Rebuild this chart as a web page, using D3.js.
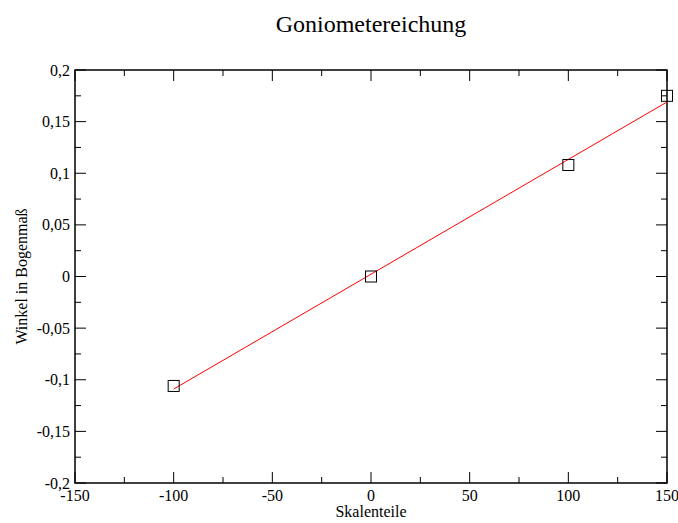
<!DOCTYPE html>
<html>
<head>
<meta charset="utf-8">
<script src="https://cdn.jsdelivr.net/npm/d3@7"></script>
<style>
  body { margin: 0; background: #fff; }
  text { font-family: "Liberation Serif", "Times New Roman", serif; fill: #000; }
</style>
</head>
<body>
<svg id="chart" width="678" height="523"></svg>
<script>
// messpunkte
const skalenteile = [-100, 0, 100, 150];
const winkel = [-0.106, 0, 0.108, 0.175];
// ausgleichsgerade (endpunkte)
const fitX = [-100, 150];
const fitY = [-0.109, 0.169];
// achsen
const xTicks = [-150, -100, -50, 0, 50, 100, 150];
const yTicks = [-0.2, -0.15, -0.1, -0.05, 0, 0.05, 0.1, 0.15, 0.2];

const margin = {top: 70, right: 11, bottom: 40, left: 75},
      width = 678 - margin.left - margin.right,
      height = 523 - margin.top - margin.bottom;

const svg = d3.select("#chart");
const g = svg.append("g")
    .attr("transform", `translate(${margin.left}, ${margin.top})`);

const x = d3.scaleLinear().domain([-150, 150]).range([0, width]);
const y = d3.scaleLinear().domain([-0.2, 0.2]).range([height, 0]);

const fmt = v => d3.format("")(Math.round(v * 1000) / 1000).replace(".", ",").replace("−", "-");

const xMinor = d3.range(-125, 150, 50);
const yMinor = d3.range(-0.175, 0.2, 0.05);

// ticks on all four sides (inward)
function ticks(sel, vals, len, axis) {
  vals.forEach(v => {
    if (axis === "x") {
      sel.append("line").attr("x1", x(v)).attr("x2", x(v)).attr("y1", height).attr("y2", height - len);
      sel.append("line").attr("x1", x(v)).attr("x2", x(v)).attr("y1", 0).attr("y2", len);
    } else {
      sel.append("line").attr("y1", y(v)).attr("y2", y(v)).attr("x1", 0).attr("x2", len);
      sel.append("line").attr("y1", y(v)).attr("y2", y(v)).attr("x1", width).attr("x2", width - len);
    }
  });
}
const tg = g.append("g").attr("stroke", "#000").attr("stroke-width", 1);
ticks(tg, xTicks, 11, "x");
ticks(tg, xMinor, 6, "x");
ticks(tg, yTicks, 11, "y");
ticks(tg, yMinor, 6, "y");

// frame
g.append("rect")
  .attr("width", width).attr("height", height)
  .attr("fill", "none").attr("stroke", "#000").attr("stroke-width", 1.5);

// tick labels
g.selectAll(".xl").data(xTicks).enter().append("text")
  .attr("x", d => x(d)).attr("y", height + 18)
  .attr("text-anchor", "middle").attr("font-size", 16)
  .text(d => fmt(d));
g.selectAll(".yl").data(yTicks).enter().append("text")
  .attr("x", -5).attr("y", d => y(d) + 5.5)
  .attr("text-anchor", "end").attr("font-size", 16)
  .text(d => fmt(d));

// fit line
g.append("line")
  .attr("x1", x(fitX[0])).attr("y1", y(fitY[0]))
  .attr("x2", x(fitX[1])).attr("y2", y(fitY[1]))
  .attr("stroke", "#ff0000").attr("stroke-width", 1);

// markers
g.selectAll(".pt").data(skalenteile).enter().append("rect")
  .attr("x", d => x(d) - 5.5)
  .attr("y", (d, i) => y(winkel[i]) - 5.5)
  .attr("width", 11).attr("height", 11)
  .attr("fill", "none").attr("stroke", "#000").attr("stroke-width", 1);

// titles
svg.append("text").attr("x", 371).attr("y", 32)
  .attr("text-anchor", "middle").attr("font-size", 24)
  .text("Goniometereichung");
svg.append("text").attr("x", 371).attr("y", 517)
  .attr("text-anchor", "middle").attr("font-size", 16)
  .text("Skalenteile");
svg.append("text")
  .attr("transform", `translate(27, ${margin.top + height / 2}) rotate(-90)`)
  .attr("text-anchor", "middle").attr("font-size", 16)
  .text("Winkel in Bogenmaß");
</script>
</body>
</html>
